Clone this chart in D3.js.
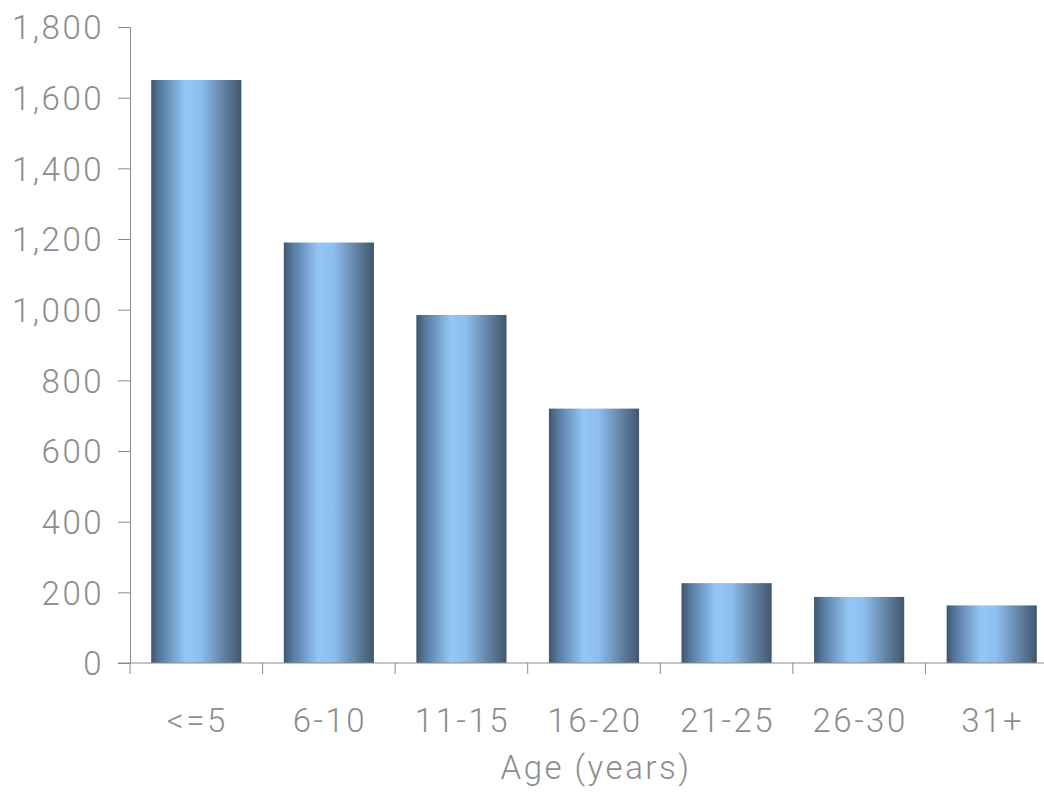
<!DOCTYPE html>
<html>
<head>
<meta charset="utf-8">
<script src="https://cdn.jsdelivr.net/npm/d3@7"></script>
<style>
  body { margin: 0; background: #fff; }
  svg text { font-family: Roboto, "Liberation Sans", sans-serif; font-weight: 300; fill: #8b8d90; letter-spacing: 2.5px; }
</style>
</head>
<body>
<div id="chart"></div>
<script>
const categories = ['<=5', '6-10', '11-15', '16-20', '21-25', '26-30', '31+'];
const counts = [1650, 1190, 985, 720, 226, 187, 163];
const yTicks = [0, 200, 400, 600, 800, 1000, 1200, 1400, 1600, 1800];
const xTitle = 'Age (years)';

const width = 1044;
const height = 799;
const margin = { top: 27, right: -14, bottom: 136, left: 130 };

const svg = d3
  .select('#chart')
  .append('svg')
  .attr('width', width)
  .attr('height', height);

const plotW = width - margin.left - margin.right;
const plotH = height - margin.top - margin.bottom;

const g = svg.append('g').attr('transform', `translate(${margin.left},${margin.top})`);

// horizontal gradient for the cylinder look
const grad = svg.append('defs').append('linearGradient').attr('id', 'barGrad')
  .attr('x1', '0%').attr('x2', '100%').attr('y1', '0%').attr('y2', '0%');
[
  ['0%', '#3f566f'],
  ['10%', '#577aa0'],
  ['38%', '#93c6f6'],
  ['55%', '#8ebeee'],
  ['82%', '#5f7e9f'],
  ['100%', '#42566c']
].forEach(([o, c]) => grad.append('stop').attr('offset', o).attr('stop-color', c));

const x = d3.scaleBand()
  .domain(categories)
  .range([0, plotW])
  .paddingInner(0.32)
  .paddingOuter(0.16);

const y = d3.scaleLinear().domain([0, 1800]).range([plotH, 0]);

// bars
g.selectAll('.bar')
  .data(categories)
  .enter()
  .append('rect')
  .attr('class', 'bar')
  .attr('x', (d) => x(d))
  .attr('y', (d, i) => y(counts[i]))
  .attr('width', x.bandwidth())
  .attr('height', (d, i) => plotH - y(counts[i]))
  .attr('fill', 'url(#barGrad)');

// y axis
const yAxis = g.append('g')
  .call(d3.axisLeft(y).tickValues(yTicks).tickFormat(d3.format(',')).tickSize(12).tickPadding(14));
yAxis.select('.domain').attr('stroke', '#8a8a8a');
yAxis.selectAll('.tick line').attr('stroke', '#8a8a8a');
yAxis.selectAll('text').attr('font-size', 33).attr('dy', '0.36em');

// x axis line
g.append('line')
  .attr('x1', -12).attr('x2', plotW)
  .attr('y1', plotH).attr('y2', plotH)
  .attr('stroke', '#8a8a8a');

// x ticks at category boundaries
const half = x.step() * x.paddingInner() / 2;
g.selectAll('.xtick')
  .data(categories)
  .enter()
  .append('line')
  .attr('x1', (d) => x(d) - half)
  .attr('x2', (d) => x(d) - half)
  .attr('y1', plotH)
  .attr('y2', plotH + 11)
  .attr('stroke', '#8a8a8a');

// x labels
g.selectAll('.xlabel')
  .data(categories)
  .enter()
  .append('text')
  .attr('x', (d) => x(d) + x.bandwidth() / 2 + 1)
  .attr('y', plotH + 69)
  .attr('text-anchor', 'middle')
  .attr('font-size', 33)
  .text((d) => d);

g.append('text')
  .attr('x', plotW / 2 + 2)
  .attr('y', plotH + 116)
  .attr('text-anchor', 'middle')
  .attr('font-size', 33)
  .text(xTitle);
</script>
</body>
</html>
